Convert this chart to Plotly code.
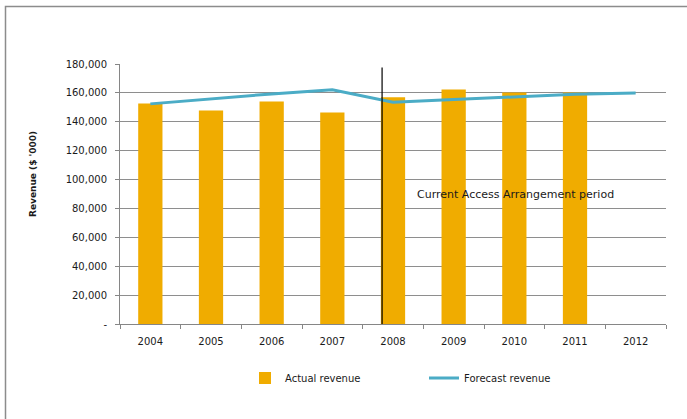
import plotly.graph_objects as go

# Revenue series ($ '000)
years = ["2004", "2005", "2006", "2007", "2008", "2009", "2010", "2011", "2012"]
actual_revenue = [152600, 147800, 154000, 146400, 157000, 162300, 160300, 160200, None]
forecast_revenue = [152400, 155900, 159300, 162200, 153500, 155400, 157400, 159000, 160000]

y_tickvals = [0, 20000, 40000, 60000, 80000, 100000, 120000, 140000, 160000, 180000]
y_ticktext = ["-", "20,000", "40,000", "60,000", "80,000", "100,000",
              "120,000", "140,000", "160,000", "180,000"]

BAR_COLOR = "#F0AC00"
LINE_COLOR = "#4BACC6"
GRID_COLOR = "#8e8e8e"
AXIS_COLOR = "#868686"
FONT = "DejaVu Sans"

W, H = 687, 419
ML, MR, MT, MB = 120, 21, 64, 95
PW, PH = W - ML - MR, H - MT - MB


def px_to_paper_x(px):
    return (px - ML) / PW


def px_to_paper_y(py):
    return (H - MB - py) / PH


fig = go.Figure()

fig.add_trace(go.Bar(
    x=years, y=actual_revenue, name="Actual revenue",
    marker=dict(color=BAR_COLOR, line=dict(width=0)),
    width=0.4,
))

fig.add_trace(go.Scatter(
    x=years, y=forecast_revenue, name="Forecast revenue",
    mode="lines", line=dict(color=LINE_COLOR, width=3),
))

# Divider marking the start of the current access arrangement period
fig.add_shape(type="line", xref="x", yref="y",
              x0=3.82, x1=3.82, y0=0, y1=177500,
              line=dict(color="black", width=1.2))

fig.add_annotation(
    text="Current Access Arrangement period",
    xref="x", yref="y", x=4.37, y=90000,
    xanchor="left", yanchor="middle", showarrow=False,
    font=dict(family=FONT, size=11, color="#1a1a1a"),
)

# Y axis title
fig.add_annotation(
    text="<b>Revenue ($ '000)</b>",
    xref="paper", yref="paper",
    x=px_to_paper_x(33), y=px_to_paper_y(174),
    xanchor="center", yanchor="middle", textangle=-90, showarrow=False,
    font=dict(family=FONT, size=9, color="#1a1a1a"),
)

# Chart area outline
bx, by = px_to_paper_x(5.5), px_to_paper_y(6.5)
fig.add_shape(type="path", xref="paper", yref="paper",
              path=f"M {bx} {px_to_paper_y(430)} L {bx} {by} L {px_to_paper_x(700)} {by}",
              line=dict(color="#8c8c8c", width=1.5))

fig.update_layout(
    width=W, height=H, autosize=False,
    margin=dict(l=ML, r=MR, t=MT, b=MB),
    paper_bgcolor="white", plot_bgcolor="white",
    font=dict(family=FONT, size=10, color="#1a1a1a"),
    bargap=0.6,
    showlegend=True,
    legend=dict(
        orientation="h", x=px_to_paper_x(245), y=px_to_paper_y(378),
        xanchor="left", yanchor="middle",
        entrywidth=134, entrywidthmode="pixels",
        font=dict(family=FONT, size=10, color="#1a1a1a"),
        bgcolor="rgba(0,0,0,0)",
    ),
    xaxis=dict(
        type="category", range=[-0.5, 8.5],
        showline=True, linecolor=AXIS_COLOR, linewidth=1,
        ticks="outside", tickson="boundaries", ticklen=4, tickcolor=AXIS_COLOR,
        showgrid=False, ticklabelstandoff=8,
        tickfont=dict(family=FONT, size=10, color="#1a1a1a"),
        fixedrange=True,
    ),
    yaxis=dict(
        range=[0, 180000], tickvals=y_tickvals, ticktext=y_ticktext,
        showline=True, linecolor=AXIS_COLOR, linewidth=1,
        ticks="outside", ticklen=4, tickcolor=AXIS_COLOR,
        showgrid=True, gridcolor=GRID_COLOR, gridwidth=1,
        zeroline=False, ticklabelstandoff=6,
        tickfont=dict(family=FONT, size=10, color="#1a1a1a"),
        fixedrange=True,
    ),
)

fig.write_html("out.html")
